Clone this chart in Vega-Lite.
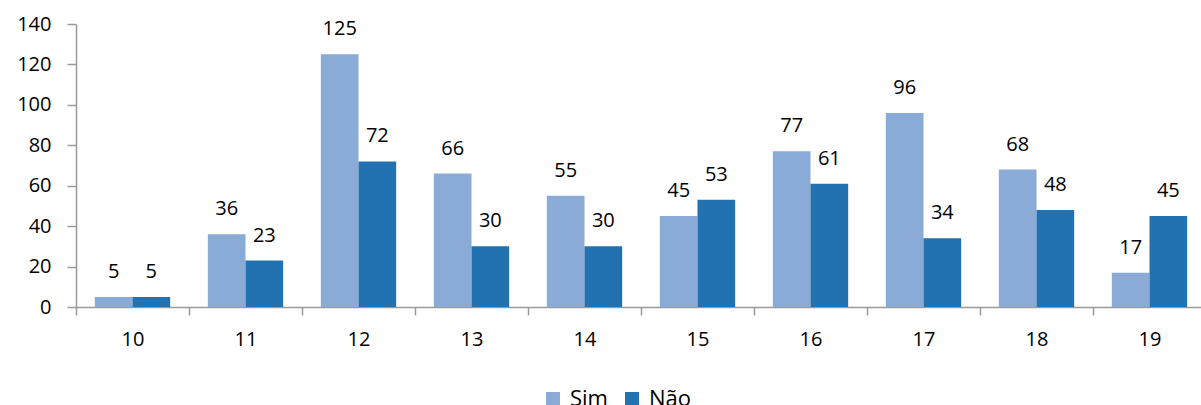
{
  "$schema": "https://vega.github.io/schema/vega-lite/v6.json",
  "autosize": {"type": "none"},
  "padding": {"left": 76, "top": 24, "right": 0, "bottom": 98},
  "width": 1130,
  "height": 283,
  "background": "white",
  "config": {
    "view": {"stroke": null},
    "font": "Open Sans",
    "axis": {"labelFont": "Open Sans", "labelFontSize": 20, "labelColor": "#000000", "domainColor": "#9a9a9a", "tickColor": "#9a9a9a", "grid": false, "title": null}
  },
  "data": {
    "values": [
      {"g": "10", "s": "Sim", "v": 5}, {"g": "10", "s": "Não", "v": 5},
      {"g": "11", "s": "Sim", "v": 36}, {"g": "11", "s": "Não", "v": 23},
      {"g": "12", "s": "Sim", "v": 125}, {"g": "12", "s": "Não", "v": 72},
      {"g": "13", "s": "Sim", "v": 66}, {"g": "13", "s": "Não", "v": 30},
      {"g": "14", "s": "Sim", "v": 55}, {"g": "14", "s": "Não", "v": 30},
      {"g": "15", "s": "Sim", "v": 45}, {"g": "15", "s": "Não", "v": 53},
      {"g": "16", "s": "Sim", "v": 77}, {"g": "16", "s": "Não", "v": 61},
      {"g": "17", "s": "Sim", "v": 96}, {"g": "17", "s": "Não", "v": 34},
      {"g": "18", "s": "Sim", "v": 68}, {"g": "18", "s": "Não", "v": 48},
      {"g": "19", "s": "Sim", "v": 17}, {"g": "19", "s": "Não", "v": 45}
    ]
  },
  "encoding": {
    "x": {
      "field": "g", "type": "nominal",
      "scale": {"paddingInner": 0, "paddingOuter": 0},
      "axis": {"labelAngle": 0, "tickBand": "extent", "tickSize": 8, "labelPadding": 14, "domainWidth": 1.5, "tickWidth": 1.5}
    },
    "xOffset": {"field": "s", "type": "nominal", "sort": ["Sim", "Não"], "scale": {"paddingInner": 0, "paddingOuter": 0.5}},
    "y": {
      "field": "v", "type": "quantitative",
      "scale": {"domain": [0, 140]},
      "axis": {"values": [0, 20, 40, 60, 80, 100, 120, 140], "tickSize": 9, "labelPadding": 16, "domainWidth": 1.5, "tickWidth": 1.5}
    }
  },
  "layer": [
    {
      "mark": {"type": "bar"},
      "encoding": {
        "color": {
          "field": "s", "type": "nominal",
          "scale": {"domain": ["Sim", "Não"], "range": ["#8aabd6", "#2272b1"]},
          "legend": {
            "title": null, "orient": "none", "direction": "horizontal",
            "legendX": 466, "legendY": 364,
            "symbolType": "square", "symbolSize": 196, "symbolStrokeWidth": 0,
            "labelFont": "Open Sans", "labelFontSize": 22, "labelColor": "#000000",
            "columnPadding": 13, "labelOffset": 6
          }
        }
      }
    },
    {
      "mark": {"type": "text", "baseline": "alphabetic", "dy": -19, "fontSize": 20, "color": "#000000"},
      "encoding": {"text": {"field": "v", "type": "quantitative"}}
    }
  ]
}
